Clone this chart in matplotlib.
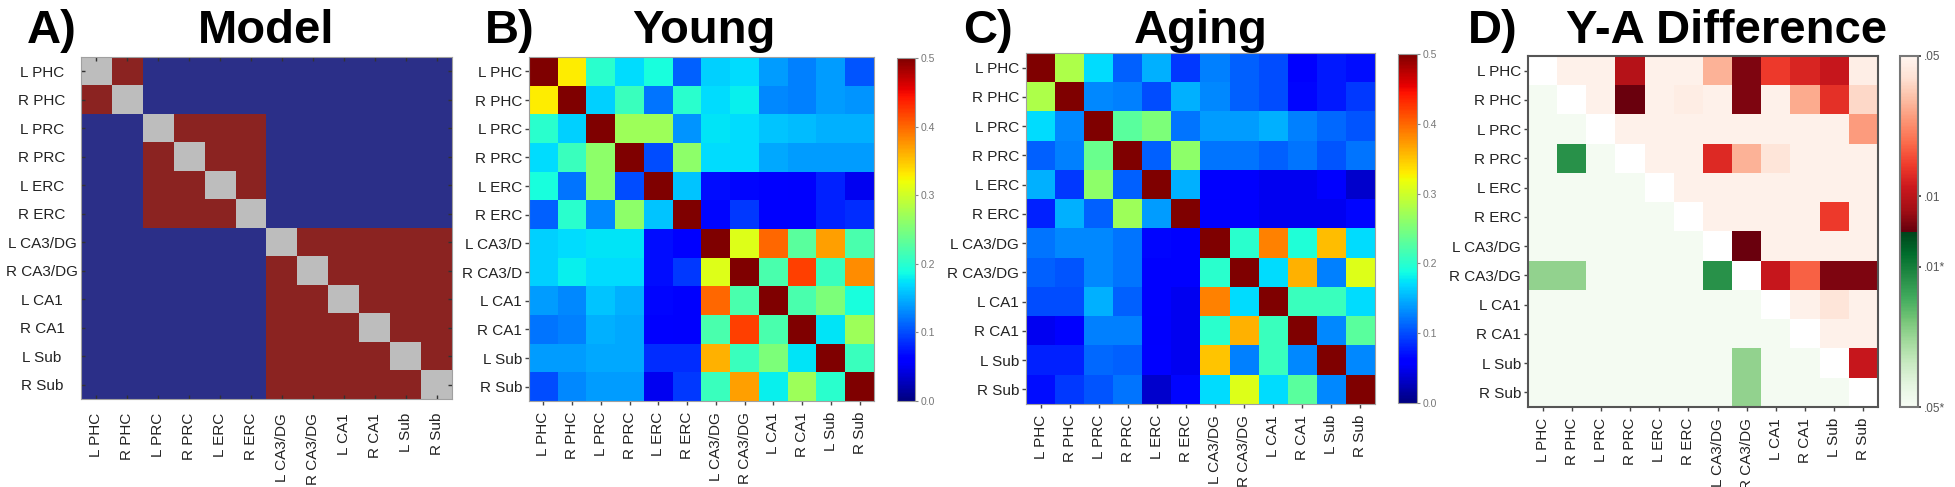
import numpy as np
import matplotlib
matplotlib.use("Agg")
import matplotlib.pyplot as plt
from matplotlib.colors import ListedColormap, BoundaryNorm

plt.rcParams['font.family'] = ['Liberation Sans', 'DejaVu Sans']

# region labels
regions = ['L PHC', 'R PHC', 'L PRC', 'R PRC', 'L ERC', 'R ERC',
           'L CA3/DG', 'R CA3/DG', 'L CA1', 'R CA1', 'L Sub', 'R Sub']
# panel B's row labels are cut short in the original
young_rows = ['L PHC', 'R PHC', 'L PRC', 'R PRC', 'L ERC', 'R ERC',
              'L CA3/D', 'R CA3/D', 'L CA1', 'R CA1', 'L Sub', 'R Sub']

# model: network membership of each region
model_groups = ['PHC', 'PHC', 'PRC/ERC', 'PRC/ERC', 'PRC/ERC', 'PRC/ERC',
                'HC', 'HC', 'HC', 'HC', 'HC', 'HC']

# young correlation matrix (diagonal saturates)
young_r = [
    [0.50, 0.33, 0.20, 0.17, 0.19, 0.11, 0.165, 0.17, 0.14, 0.125, 0.14, 0.105],
    [0.33, 0.50, 0.165, 0.21, 0.12, 0.20, 0.17, 0.18, 0.13, 0.125, 0.14, 0.135],
    [0.20, 0.165, 0.50, 0.27, 0.27, 0.135, 0.175, 0.17, 0.16, 0.155, 0.15, 0.15],
    [0.17, 0.21, 0.26, 0.50, 0.10, 0.26, 0.17, 0.17, 0.145, 0.14, 0.14, 0.14],
    [0.19, 0.12, 0.26, 0.10, 0.50, 0.16, 0.07, 0.065, 0.06, 0.055, 0.08, 0.05],
    [0.11, 0.20, 0.13, 0.26, 0.16, 0.50, 0.065, 0.09, 0.06, 0.06, 0.08, 0.085],
    [0.165, 0.17, 0.175, 0.175, 0.07, 0.06, 0.50, 0.31, 0.40, 0.23, 0.37, 0.22],
    [0.165, 0.18, 0.17, 0.17, 0.07, 0.09, 0.31, 0.50, 0.22, 0.42, 0.21, 0.38],
    [0.14, 0.13, 0.16, 0.15, 0.065, 0.055, 0.40, 0.22, 0.50, 0.22, 0.25, 0.19],
    [0.12, 0.125, 0.15, 0.145, 0.06, 0.055, 0.22, 0.42, 0.22, 0.50, 0.175, 0.27],
    [0.14, 0.14, 0.145, 0.145, 0.085, 0.085, 0.36, 0.21, 0.25, 0.175, 0.50, 0.21],
    [0.10, 0.13, 0.14, 0.14, 0.05, 0.09, 0.21, 0.37, 0.18, 0.27, 0.20, 0.50],
]

# aging correlation matrix
aging_r = [
    [0.50, 0.28, 0.17, 0.11, 0.15, 0.09, 0.125, 0.11, 0.10, 0.06, 0.075, 0.07],
    [0.28, 0.50, 0.13, 0.125, 0.10, 0.15, 0.13, 0.11, 0.10, 0.065, 0.075, 0.09],
    [0.17, 0.13, 0.50, 0.23, 0.25, 0.12, 0.14, 0.14, 0.15, 0.125, 0.115, 0.105],
    [0.11, 0.125, 0.24, 0.50, 0.11, 0.26, 0.12, 0.12, 0.11, 0.12, 0.105, 0.12],
    [0.15, 0.09, 0.26, 0.11, 0.50, 0.15, 0.06, 0.055, 0.05, 0.05, 0.06, 0.035],
    [0.08, 0.15, 0.11, 0.27, 0.14, 0.50, 0.055, 0.055, 0.05, 0.05, 0.05, 0.065],
    [0.12, 0.13, 0.13, 0.12, 0.065, 0.06, 0.50, 0.20, 0.385, 0.195, 0.355, 0.17],
    [0.11, 0.105, 0.13, 0.12, 0.06, 0.06, 0.20, 0.50, 0.17, 0.36, 0.125, 0.31],
    [0.10, 0.10, 0.15, 0.11, 0.06, 0.05, 0.385, 0.17, 0.50, 0.21, 0.21, 0.17],
    [0.05, 0.06, 0.125, 0.125, 0.055, 0.05, 0.20, 0.36, 0.21, 0.50, 0.13, 0.23],
    [0.08, 0.08, 0.115, 0.11, 0.06, 0.05, 0.35, 0.125, 0.21, 0.13, 0.50, 0.13],
    [0.07, 0.09, 0.105, 0.12, 0.035, 0.065, 0.17, 0.31, 0.17, 0.23, 0.13, 0.50],
]

# Y-A difference, position on the significance colour bar
# (0 = .05* green, 0.5 = strongest, 1 = .05 red); nan = diagonal
n = np.nan
diff_level = [
    [n, 0.985, 0.985, 0.59, 0.985, 0.985, 0.86, 0.525, 0.685, 0.65, 0.62, 0.98],
    [0.01, n, 0.985, 0.505, 0.985, 0.975, 0.985, 0.525, 0.985, 0.85, 0.67, 0.925],
    [0.01, 0.01, n, 0.985, 0.985, 0.985, 0.985, 0.985, 0.985, 0.985, 0.985, 0.825],
    [0.01, 0.36, 0.01, n, 0.985, 0.985, 0.66, 0.86, 0.95, 0.985, 0.985, 0.985],
    [0.01, 0.01, 0.01, 0.01, n, 0.985, 0.985, 0.985, 0.985, 0.985, 0.985, 0.985],
    [0.01, 0.01, 0.01, 0.01, 0.01, n, 0.985, 0.985, 0.985, 0.985, 0.685, 0.985],
    [0.01, 0.01, 0.01, 0.01, 0.01, 0.01, n, 0.505, 0.985, 0.985, 0.985, 0.985],
    [0.21, 0.21, 0.01, 0.01, 0.01, 0.01, 0.36, n, 0.62, 0.74, 0.525, 0.525],
    [0.01, 0.01, 0.01, 0.01, 0.01, 0.01, 0.01, 0.01, n, 0.985, 0.95, 0.985],
    [0.01, 0.01, 0.01, 0.01, 0.01, 0.01, 0.01, 0.01, 0.01, n, 0.985, 0.985],
    [0.01, 0.01, 0.01, 0.01, 0.01, 0.01, 0.01, 0.21, 0.01, 0.01, n, 0.62],
    [0.01, 0.01, 0.01, 0.01, 0.01, 0.01, 0.01, 0.21, 0.01, 0.01, 0.01, n],
]
diff_ticks = [0.0, 0.4, 0.6, 1.0]
diff_ticklabels = ['.05*', '.01*', '.01', '.05']

W, H = 1956, 487
fig = plt.figure(figsize=(W / 100, H / 100), dpi=100)


def box(x0, y0, x1, y1):
    # pixel box (top-left origin) -> figure fraction rect
    return [x0 / W, 1 - y1 / H, (x1 - x0) / W, (y1 - y0) / H]


def style_ticks(ax, ylabels, inside=False):
    idx = np.arange(len(regions))
    ax.set_xticks(idx)
    ax.set_yticks(idx)
    ax.set_xticklabels(regions, rotation=90, fontsize=11, color='#222')
    ax.set_yticklabels(ylabels, fontsize=11, color='#222')
    if inside:
        # MATLAB style: ticks inside on all sides, row labels centred
        ax.tick_params(direction='in', length=3, width=1, color='#333',
                       top=True, right=True)
        ax.tick_params(axis='x', pad=10)
        ax.tick_params(axis='y', pad=28)
        for t in ax.get_yticklabels():
            t.set_horizontalalignment('center')
    else:
        ax.tick_params(length=3, width=1, color='#444', pad=2)
        ax.tick_params(axis='x', pad=5)


def panel_title(letter, title, lx, tx):
    fig.text(lx / W, 1 - 43 / H, letter, fontsize=34, fontweight='bold',
             ha='left', va='baseline')
    fig.text(tx / W, 1 - 43 / H, title, fontsize=34, fontweight='bold',
             ha='center', va='baseline')


# A) model
same = np.array([[model_groups[i] == model_groups[j] for j in range(12)]
                 for i in range(12)], dtype=float)
np.fill_diagonal(same, 2)
ax_a = fig.add_axes(box(81, 57, 452, 399))
model_cmap = ListedColormap(['#2b2f88', '#8b2321', '#bdbdbd'])
ax_a.imshow(same, cmap=model_cmap, norm=BoundaryNorm([-0.5, 0.5, 1.5, 2.5], 3),
            aspect='auto', interpolation='nearest')
style_ticks(ax_a, regions, inside=True)
for s in ax_a.spines.values():
    s.set_color('#a0a0a0')
panel_title('A)', 'Model', 27, 266)


def jet_panel(data, rows, rect, cbar_rect):
    ax = fig.add_axes(box(*rect))
    im = ax.imshow(np.array(data), cmap='jet', vmin=0, vmax=0.5,
                   aspect='auto', interpolation='nearest')
    style_ticks(ax, rows)
    for s in ax.spines.values():
        s.set_color('#a0a0a0')
    cax = fig.add_axes(box(*cbar_rect))
    cb = fig.colorbar(im, cax=cax, ticks=[0, 0.1, 0.2, 0.3, 0.4, 0.5])
    cb.ax.set_yticklabels(['0.0', '0.1', '0.2', '0.3', '0.4', '0.5'])
    cb.ax.tick_params(labelsize=7.5, labelcolor='#777', color='#888',
                      length=2, width=0.8, pad=2)
    cb.outline.set_edgecolor('#999')
    return ax


# B) young
jet_panel(young_r, young_rows, (529, 57, 874, 401), (897, 58, 915, 401))
panel_title('B)', 'Young', 485, 704)

# C) aging
jet_panel(aging_r, regions, (1026, 53, 1375, 404), (1398, 54, 1417, 403))
panel_title('C)', 'Aging', 963, 1201)

# D) Y-A difference
greens = plt.get_cmap('Greens')(np.linspace(0, 1, 128))
reds = plt.get_cmap('Reds')(np.linspace(1, 0, 128))
diff_cmap = ListedColormap(np.vstack([greens, reds]))
diff_cmap.set_bad('white')
ax_d = fig.add_axes(box(1528, 56, 1878, 407))
im_d = ax_d.imshow(np.ma.masked_invalid(np.array(diff_level)), cmap=diff_cmap,
                   vmin=0, vmax=1, aspect='auto', interpolation='nearest')
style_ticks(ax_d, regions)
for s in ax_d.spines.values():
    s.set_color('#555')
    s.set_linewidth(1.5)
cax_d = fig.add_axes(box(1900, 56, 1918, 407))
cb_d = fig.colorbar(im_d, cax=cax_d, ticks=diff_ticks)
cb_d.ax.set_yticklabels(diff_ticklabels)
cb_d.ax.tick_params(labelsize=8.5, labelcolor='#555', color='#333',
                    length=2.5, width=1.2, pad=2)
cb_d.outline.set_edgecolor('#777')
cb_d.outline.set_linewidth(1.5)
fig.text(1468 / W, 1 - 43 / H, 'D)', fontsize=34, fontweight='bold',
         ha='left', va='baseline')
fig.text(1727 / W, 1 - 43 / H, 'Y-A Difference', fontsize=34,
         fontweight='bold', ha='center', va='baseline')

fig.savefig('out.png', dpi=100, facecolor='white')
